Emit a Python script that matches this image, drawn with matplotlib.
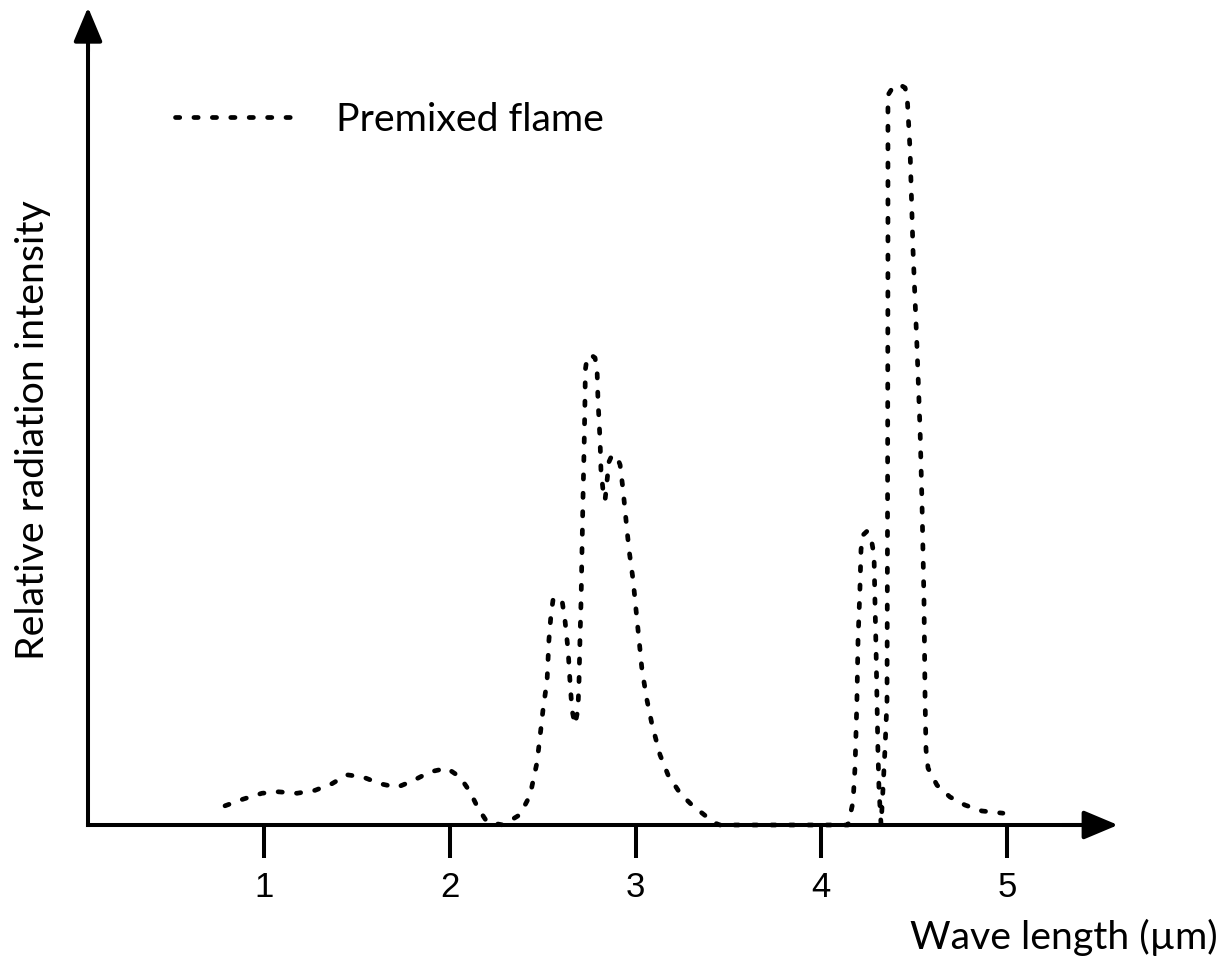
import matplotlib
matplotlib.use("Agg")
import matplotlib.pyplot as plt

## Emission spectrum of the premixed flame
wavelength = [0.790, 0.887, 0.989, 1.075, 1.178, 1.275, 1.366, 1.447, 1.533, 1.624,
              1.716, 1.802, 1.894, 1.985, 2.055, 2.109, 2.152, 2.201, 2.287, 2.378,
              2.432, 2.470, 2.490, 2.502, 2.524, 2.534, 2.545, 2.556, 2.583, 2.604,
              2.620, 2.637, 2.647, 2.658, 2.674, 2.690, 2.696, 2.701, 2.707, 2.712,
              2.717, 2.723, 2.728, 2.730, 2.739, 2.760, 2.782, 2.793, 2.798, 2.809,
              2.814, 2.825, 2.836, 2.847, 2.857, 2.873, 2.900, 2.917, 2.933, 2.949,
              2.965, 2.987, 3.003, 3.019, 3.035, 3.062, 3.089, 3.132, 3.175, 3.240,
              3.304, 3.369, 3.423, 3.455, 4.117, 4.144, 4.171, 4.182, 4.192, 4.198,
              4.208, 4.214, 4.225, 4.246, 4.268, 4.284, 4.289, 4.295, 4.300, 4.305,
              4.311, 4.322, 4.332, 4.343, 4.354, 4.357, 4.359, 4.359, 4.386, 4.424,
              4.451, 4.462, 4.478, 4.494, 4.516, 4.532, 4.542, 4.553, 4.559, 4.564,
              4.575, 4.623, 4.693, 4.774, 4.865, 4.978]
intensity = [0.026, 0.035, 0.043, 0.045, 0.043, 0.047, 0.056, 0.068, 0.065, 0.056,
             0.051, 0.060, 0.072, 0.077, 0.065, 0.045, 0.023, 0.004, 0.000, 0.014,
             0.040, 0.085, 0.129, 0.156, 0.196, 0.251, 0.285, 0.305, 0.309, 0.305,
             0.278, 0.237, 0.196, 0.156, 0.136, 0.156, 0.196, 0.251, 0.305, 0.373,
             0.440, 0.508, 0.576, 0.617, 0.633, 0.637, 0.633, 0.617, 0.576, 0.522,
             0.481, 0.454, 0.440, 0.467, 0.492, 0.501, 0.499, 0.488, 0.454, 0.413,
             0.373, 0.332, 0.291, 0.251, 0.210, 0.169, 0.136, 0.095, 0.068, 0.043,
             0.027, 0.014, 0.003, 0.000, 0.000, 0.000, 0.031, 0.079, 0.169, 0.251,
             0.318, 0.373, 0.393, 0.398, 0.389, 0.366, 0.305, 0.237, 0.169, 0.102,
             0.047, 0.000, 0.047, 0.102, 0.169, 0.440, 0.779, 0.989, 1.000, 1.003,
             0.999, 0.989, 0.915, 0.779, 0.644, 0.535, 0.440, 0.305, 0.169, 0.102,
             0.077, 0.054, 0.038, 0.027, 0.019, 0.016]

xticks = [1, 2, 3, 4, 5]
series_label = "Premixed flame"
xlabel = "Wave length (\u00b5m)"
ylabel = "Relative radiation intensity"

x_origin = 0.0525   # where the vertical axis crosses
x_end = 5.5975      # tip of the horizontal arrow
y_end = 1.108       # tip of the vertical arrow
axis_lw = 2.9
label_size = 28.3

fig = plt.figure(figsize=(12.24, 9.63), dpi=100)
ax = fig.add_axes([0, 0, 1, 1])
ax.set_xlim(-0.4213, 6.1682)
ax.set_ylim(-0.187, 1.1179)
ax.patch.set_alpha(0)

# axes as arrows through the origin
for side in ["top", "right"]:
    ax.spines[side].set_visible(False)
ax.spines["left"].set_position(("data", x_origin))
ax.spines["bottom"].set_position(("data", 0))
ax.spines["left"].set_bounds(0, y_end - 0.03)
ax.spines["bottom"].set_bounds(x_origin, x_end - 0.1)
ax.spines["left"].set_linewidth(axis_lw)
ax.spines["bottom"].set_linewidth(axis_lw)
ax.spines["left"].set_capstyle("projecting")

arrow = dict(arrowstyle="-|>,head_length=1.0,head_width=0.42", mutation_scale=21,
             color="black", lw=axis_lw, shrinkA=0, shrinkB=0)
ax.annotate("", xy=(x_end, 0), xytext=(x_end - 0.3, 0), arrowprops=arrow)
ax.annotate("", xy=(x_origin, y_end), xytext=(x_origin, y_end - 0.06), arrowprops=arrow)

ax.set_xticks(xticks)
ax.set_xticklabels([str(t) for t in xticks], fontfamily="Liberation Sans")
ax.set_yticks([])
ax.tick_params(axis="x", direction="out", length=24, width=axis_lw, pad=9, labelsize=25)

# the spectrum (drawn above the axis line so the flat part still shows)
ax.plot(wavelength, intensity, color="black", lw=3.4, linestyle=(0, (0.9, 3.0)),
        dash_capstyle="round", label=series_label, zorder=3)

ax.legend(loc="center left", bbox_to_anchor=(175 / 1224, 1 - 120 / 963),
          bbox_transform=fig.transFigure, frameon=False, borderpad=0, borderaxespad=0,
          handlelength=3.0, handletextpad=1.1, prop={"family": "Lato", "size": label_size})

fig.text(0.027, 0.553, ylabel, rotation=90, ha="center", va="center",
         fontfamily="Lato", fontsize=label_size)
fig.text(0.995, 0.027, xlabel, ha="right", va="center", fontfamily="Lato",
         fontsize=label_size)

fig.savefig("out.png", dpi=100)
